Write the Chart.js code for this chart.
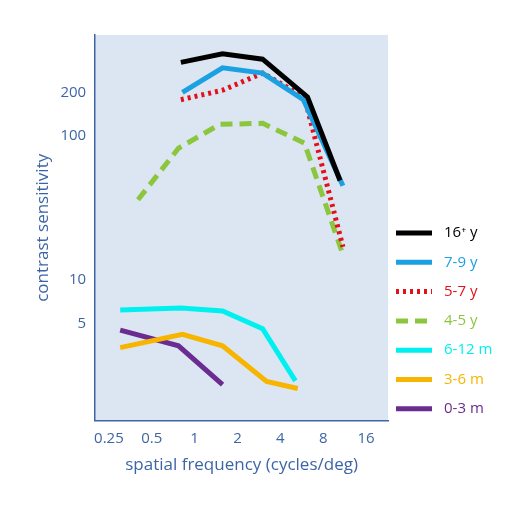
<!DOCTYPE html>
<html><head><meta charset="utf-8">
<script src="https://cdn.jsdelivr.net/npm/chart.js@4"></script>
<style>html,body{margin:0;background:#fff}#w{width:528px;height:512px}</style>
</head><body><div id="w"><canvas id="c"></canvas></div>
<script>
const labels=["16\u207A y","7-9 y","5-7 y","4-5 y","6-12 m","3-6 m","0-3 m"];
const colors=["#000000","#1ba1e2","#e3101a","#8cc63f","#00f0f0","#f7b500","#6a2c91"];
const dashes=[[],[],[3,4],[12,7],[],[],[]];
const sf16=[0.8,1.57,3.0,6.2,10.5], cs16=[323,370,340,186,49];
const sf79=[0.82,1.57,3.0,5.8,11], cs79=[200,296,272,178,45];
const sf57=[0.8,1.57,3.0,5.9,11], cs57=[178,207,272,186,17];
const sf45=[0.4,0.77,1.5,3.0,5.9,11], cs45=[36,82,120,122,89,15];
const sf612=[0.3,0.8,1.57,3.0,5.1], cs612=[6.2,6.4,6.1,4.6,2.0];
const sf36=[0.3,0.82,1.57,3.2,5.3], cs36=[3.4,4.2,3.5,1.98,1.77];
const sf03=[0.3,0.77,1.57], cs03=[4.5,3.5,1.88];
const xTicks=[0.25,0.5,1,2,4,8,16], yTicks=[5,10,100,200];
const sets=[[sf16,cs16],[sf79,cs79],[sf57,cs57],[sf45,cs45],[sf612,cs612],[sf36,cs36],[sf03,cs03]];
const axisCol="#3d65a6";
Chart.defaults.font.family="'Open Sans', 'Liberation Sans', sans-serif";
const bg={id:'bg',beforeDraw(ch){const a=ch.chartArea,c=ch.ctx;c.save();c.fillStyle="#dce6f2";c.fillRect(a.left,a.top,a.right-a.left,a.bottom-a.top);c.restore();}};
const leg={id:'leg',afterDraw(ch){const c=ch.ctx;c.save();c.font="15px 'Open Sans', 'Liberation Sans', sans-serif";c.textBaseline='middle';
ch.data.datasets.forEach((d,i)=>{const y=233+i*29.3;c.strokeStyle=colors[i];c.lineWidth=5;c.setLineDash(dashes[i]);c.beginPath();c.moveTo(396,y);c.lineTo(432,y);c.stroke();c.setLineDash([]);c.fillStyle=colors[i];c.fillText(d.label,444,y);});c.restore();}};
new Chart(document.getElementById('c'),{type:'line',
data:{datasets:sets.map((s,i)=>({label:labels[i],data:s[0].map((x,j)=>({x:x,y:s[1][j]})),borderColor:colors[i],backgroundColor:colors[i],borderWidth:5,borderDash:dashes[i],pointRadius:0,tension:0,fill:false}))},
options:{responsive:true,maintainAspectRatio:false,animation:false,
layout:{padding:{top:35,right:140,left:29,bottom:33}},
plugins:{tooltip:{enabled:false},legend:{display:false}},
scales:{
x:{type:'logarithmic',min:0.2,max:22.8,afterBuildTicks(a){a.ticks=xTicks.map(v=>({value:v}));},
ticks:{color:axisCol,font:{size:15},autoSkip:false,maxRotation:0,callback:v=>String(v)},
grid:{display:false,drawTicks:true,tickLength:6,color:axisCol},border:{color:axisCol,width:1.5},
title:{display:true,text:'spatial frequency (cycles/deg)',color:axisCol,font:{size:17}}},
y:{type:'logarithmic',min:1.06,max:500,afterBuildTicks(a){a.ticks=yTicks.map(v=>({value:v}));},
ticks:{color:axisCol,font:{size:15},autoSkip:false,callback:v=>String(v)},
grid:{display:false,tickLength:6,color:axisCol},border:{color:axisCol,width:1.5},
title:{display:true,text:'contrast sensitivity',color:axisCol,font:{size:17}}}}},
plugins:[bg,leg]});
</script></body></html>
